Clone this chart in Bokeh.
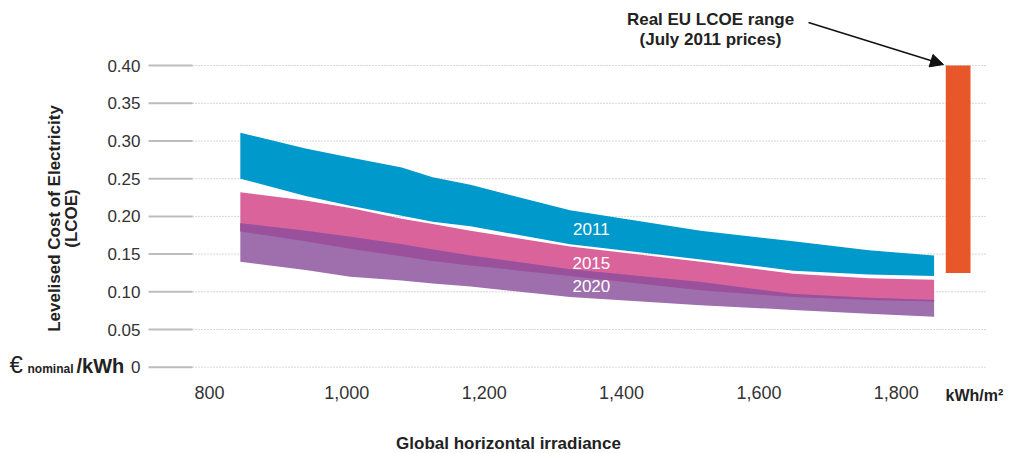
from math import pi
from bokeh.plotting import figure
from bokeh.models import (FixedTicker, NumeralTickFormatter, PrintfTickFormatter,
                          Arrow, NormalHead, Range1d)
from bokeh.embed import file_html
from bokeh.resources import INLINE
from bokeh.core.properties import value

# ---------------- data ----------------
irradiance = [845, 940, 1005, 1080, 1125, 1180, 1325, 1515, 1650, 1760, 1855]
lcoe_2011_high = [0.311, 0.290, 0.278, 0.265, 0.252, 0.242, 0.208, 0.181, 0.167, 0.155, 0.148]
lcoe_2011_low = [0.250, 0.227, 0.214, 0.201, 0.193, 0.187, 0.163, 0.143, 0.128, 0.123, 0.121]
lcoe_2015_high = [0.232, 0.221, 0.211, 0.197, 0.190, 0.181, 0.160, 0.140, 0.124, 0.118, 0.116]
lcoe_2015_low = [0.180, 0.167, 0.157, 0.147, 0.141, 0.135, 0.121, 0.102, 0.093, 0.089, 0.087]
lcoe_2020_high = [0.191, 0.181, 0.173, 0.163, 0.156, 0.148, 0.130, 0.113, 0.097, 0.092, 0.089]
lcoe_2020_low = [0.140, 0.129, 0.120, 0.115, 0.111, 0.107, 0.093, 0.082, 0.076, 0.071, 0.067]
band_years = ["2011", "2015", "2020"]
band_label_x = 1356
band_label_y = [0.1836, 0.1385, 0.1074]
eu_range_x = 1890
eu_range_low = 0.125
eu_range_high = 0.40
x_ticks = [800, 1000, 1200, 1400, 1600, 1800]
y_ticks = [0, 0.05, 0.10, 0.15, 0.20, 0.25, 0.30, 0.35, 0.40]

# ---------------- style / layout ----------------
W, H = 1011, 453
FONT = "Liberation Sans"
BLUE = "#0099CC"
PINK = "#D9639A"
PURPLE = "#9E6EAD"
DARK = "#9B509B"
ORANGE = "#E8572A"
TXT = "#222222"

# pixel <-> data mapping (frame = whole canvas)
PX = 0.6869                 # pixels per kWh/m2
X0 = 340.6 / PX             # data x at left edge of canvas
PY = 754.0                  # pixels per EUR/kWh
Y0PIX = 366.7               # pixel row of value 0
XMIN, XMAX = X0, X0 + W / PX
YMAX, YMIN = Y0PIX / PY, (Y0PIX - H) / PY


def xd(px):
    return X0 + px / PX


def yd(py):
    return (Y0PIX - py) / PY


p = figure(width=W, height=H, output_backend="svg", toolbar_location=None,
           x_range=Range1d(XMIN, XMAX), y_range=Range1d(YMIN, YMAX),
           min_border_left=0, min_border_right=0, min_border_top=0,
           min_border_bottom=0)
p.outline_line_color = None
p.background_fill_color = "white"
p.border_fill_color = "white"
p.xgrid.grid_line_color = None
p.ygrid.grid_line_color = None

# axes drawn at fixed locations inside the canvas
for ax in (p.xaxis[0], p.yaxis[0]):
    ax.axis_line_color = None
    ax.major_tick_line_color = None
    ax.minor_tick_line_color = None
    ax.major_tick_out = 0
    ax.major_tick_in = 0
    ax.major_label_text_font = FONT
    ax.major_label_text_color = "#333333"

p.xaxis.ticker = FixedTicker(ticks=x_ticks)
p.xaxis.formatter = NumeralTickFormatter(format="0,0")
p.xaxis.major_label_text_font_size = "18px"
p.xaxis.major_label_standoff = 12
p.xaxis.fixed_location = yd(373)

p.yaxis.ticker = FixedTicker(ticks=y_ticks)
p.yaxis.formatter = PrintfTickFormatter(format="%.2f")
p.yaxis.major_label_overrides = {0: "0"}
p.yaxis.major_label_text_font_size = "17px"
p.yaxis.major_label_standoff = 8
p.yaxis.fixed_location = xd(148)

# gridlines: short solid start, then dotted
n = len(y_ticks)
p.segment(x0=[xd(148)] * n, y0=y_ticks, x1=[xd(192)] * n, y1=y_ticks,
          line_color="#bdbdbd", line_width=2)
p.segment(x0=[xd(192)] * n, y0=y_ticks, x1=[xd(985)] * n, y1=y_ticks,
          line_color="#b0b0b0", line_width=1, line_dash="1 2")

# bands
p.varea(x=irradiance, y1=lcoe_2011_low, y2=lcoe_2011_high, fill_color=BLUE)
p.varea(x=irradiance, y1=lcoe_2015_low, y2=lcoe_2015_high, fill_color=PINK)
p.varea(x=irradiance, y1=lcoe_2020_low, y2=lcoe_2020_high, fill_color=PURPLE)
p.varea(x=irradiance, y1=lcoe_2015_low, y2=lcoe_2020_high, fill_color=DARK)

p.text(x=[band_label_x] * 3, y=band_label_y, text=band_years,
       text_font=value(FONT), text_font_size="17px", text_color="white",
       text_align="center", text_baseline="middle")

# EU range bar
p.vbar(x=[eu_range_x], width=36, bottom=[eu_range_low], top=[eu_range_high],
       fill_color=ORANGE, line_color=None)

# annotation with arrow
p.text(x=[xd(710), xd(710)], y=[yd(19), yd(39)],
       text=["Real EU LCOE range", "(July 2011 prices)"],
       text_font=value(FONT), text_font_size="17px", text_font_style="bold",
       text_color=TXT, text_align="center", text_baseline="middle")
p.add_layout(Arrow(end=NormalHead(size=13, fill_color="#111111", line_color="#111111"),
                   x_start=xd(808), y_start=yd(22), x_end=xd(943), y_end=yd(64),
                   line_color="#111111", line_width=1.5))

# y-axis title (two rotated lines)
p.text(x=[xd(54), xd(71)], y=[yd(218), yd(218)],
       text=["Levelised Cost of Electricity", "(LCOE)"], angle=pi / 2,
       text_font=value(FONT), text_font_size="17px", text_font_style="bold",
       text_color=TXT, text_align="center", text_baseline="middle")

# unit label at the bottom left: EUR(nominal)/kWh
p.text(x=[xd(9)], y=[yd(364)], text=["€"], text_font=value(FONT),
       text_font_size="24px", text_color=TXT, text_align="left",
       text_baseline="middle")
p.text(x=[xd(27)], y=[yd(368)], text=["nominal"], text_font=value(FONT),
       text_font_size="12px", text_font_style="bold", text_color=TXT,
       text_align="left", text_baseline="middle")
p.text(x=[xd(76)], y=[yd(365)], text=["/kWh"], text_font=value(FONT),
       text_font_size="20px", text_font_style="bold", text_color=TXT,
       text_align="left", text_baseline="middle")

# x unit and x title
p.text(x=[xd(945)], y=[yd(395)], text=["kWh/m²"], text_font=value(FONT),
       text_font_size="16px", text_font_style="bold", text_color=TXT,
       text_align="left", text_baseline="middle")
p.text(x=[xd(508)], y=[yd(443)], text=["Global horizontal irradiance"],
       text_font=value(FONT), text_font_size="17px", text_font_style="bold",
       text_color=TXT, text_align="center", text_baseline="middle")

open("out.html", "w").write(file_html(p, INLINE))
